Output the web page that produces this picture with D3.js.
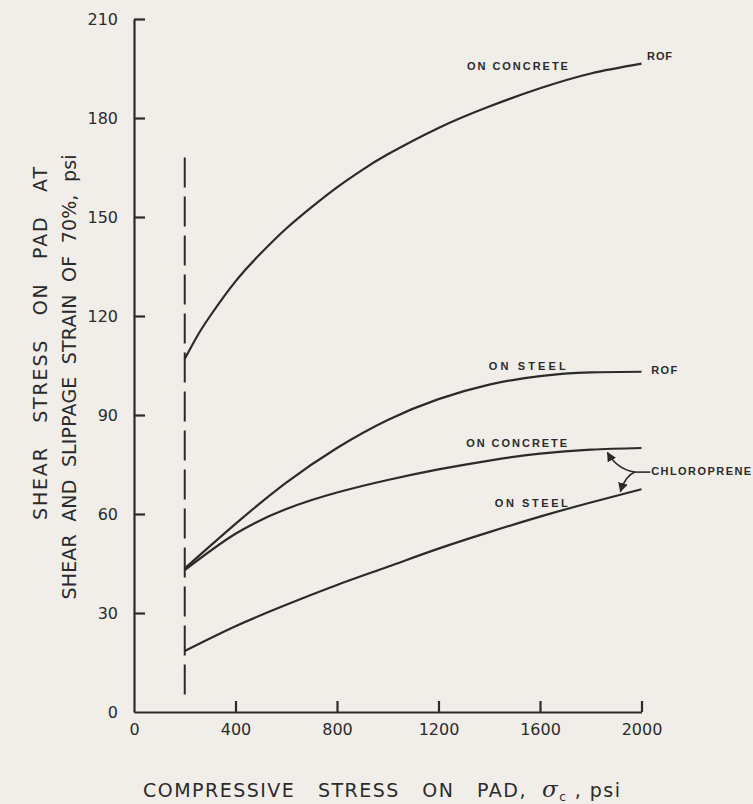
<!DOCTYPE html>
<html><head><meta charset="utf-8">
<script src="https://cdn.jsdelivr.net/npm/d3@7"></script>
<style>
html,body{margin:0;padding:0;background:#f1eeea;}
svg{display:block;}
text{white-space:pre;}
</style></head>
<body>
<svg id="chart" width="753" height="804"></svg>
<script>
// ---- data ----
const xTicks = [0, 400, 800, 1200, 1600, 2000];
const yTicks = [0, 30, 60, 90, 120, 150, 180, 210];
const rofConcreteX = [200, 250, 300, 400, 500, 600, 700, 800, 900, 1000, 1200, 1400, 1600, 1800, 2000];
const rofConcreteY = [107, 114, 120, 130.5, 139, 146.5, 153, 159, 164.3, 169, 177, 183.5, 189, 193.5, 196.5];
const stressX = [200, 400, 600, 800, 1000, 1200, 1400, 1600, 1800, 2000];
const rofSteel = [43.5, 57, 69.5, 80, 88.5, 94.8, 99.2, 101.8, 102.9, 103.1];
const chlConcrete = [43, 54, 61.5, 66.5, 70.3, 73.5, 76.2, 78.3, 79.5, 80];
const chlSteel = [18.5, 26, 32.5, 38.5, 44, 49.5, 54.5, 59.2, 63.5, 67.5];
const dashX = 200, dashTop = 168;

const svg = d3.select("#chart");
const x = d3.scaleLinear().domain([0, 2000]).range([134, 641.5]);
const y = d3.scaleLinear().domain([0, 210]).range([712, 19]);
const ink = "#2b2b2b";
const tickFont = "DejaVu Sans, sans-serif";

// axes
const xAxis = d3.axisBottom(x).tickValues(xTicks).tickFormat(d3.format("d"))
  .tickSizeInner(-11).tickSizeOuter(0).tickPadding(12);
const gx = svg.append("g").attr("transform", `translate(0,${y(0)})`).call(xAxis);
const yAxis = d3.axisLeft(y).tickValues(yTicks).tickFormat(d3.format("d"))
  .tickSizeInner(-11).tickSizeOuter(0).tickPadding(16);
const gy = svg.append("g").attr("transform", `translate(${x(0)},0)`).call(yAxis);
[gx, gy].forEach(g => {
  g.select(".domain").attr("stroke", ink).attr("stroke-width", 2.2);
  g.selectAll(".tick line").attr("stroke", ink).attr("stroke-width", 2.2);
  g.selectAll(".tick text").attr("fill", ink).attr("font-family", tickFont)
    .attr("font-size", 16);
});
gy.selectAll(".tick line").filter(d => d === 0).remove();
gx.selectAll(".tick line").filter(d => d === 0).remove();

// dashed vertical line
svg.append("line").attr("x1", x(dashX)).attr("x2", x(dashX))
  .attr("y1", y(dashTop)).attr("y2", y(2.7))
  .attr("stroke", ink).attr("stroke-width", 2).attr("stroke-dasharray", "30,9");

// curves
const line = d3.line().x(d => x(d[0])).y(d => y(d[1])).curve(d3.curveNatural);
const series = [
  [rofConcreteX, rofConcreteY],
  [stressX, rofSteel],
  [stressX, chlConcrete],
  [stressX, chlSteel]
];
series.forEach(([xs, ys]) => {
  svg.append("path").datum(xs.map((v, i) => [v, ys[i]]))
    .attr("d", line).attr("fill", "none").attr("stroke", ink).attr("stroke-width", 2.2);
});

// curve labels (data coordinates)
const labelText = ["ON CONCRETE", "ROF", "ON STEEL", "ROF", "ON CONCRETE", "ON STEEL", "CHLOROPRENE"];
const labelX = [1312, 2022, 1398, 2038, 1309, 1422, 2038];
const labelY = [194.5, 197.5, 103.5, 102.3, 80.3, 62, 71.8];
const labelW = [101, 25, 77, 26, 101, 73, 100];
labelText.forEach((t, i) => {
  svg.append("text").attr("x", x(labelX[i])).attr("y", y(labelY[i]))
    .attr("font-family", "Liberation Sans, Arial, sans-serif").attr("font-weight", "bold")
    .attr("font-size", 11).attr("fill", ink)
    .attr("textLength", labelW[i]).attr("lengthAdjust", "spacing").text(t);
});

// chloroprene leader + arrows
const leadX = [1974, 2035], leadY = [72.7, 72.7];
svg.append("line").attr("x1", x(leadX[0])).attr("x2", x(leadX[1]))
  .attr("y1", y(leadY[0])).attr("y2", y(leadY[1])).attr("stroke", ink).attr("stroke-width", 1.6);
svg.append("defs").append("marker").attr("id", "ah").attr("viewBox", "0 0 10 10")
  .attr("refX", 9).attr("refY", 5).attr("markerWidth", 6).attr("markerHeight", 6)
  .attr("orient", "auto").append("path").attr("d", "M0,0L10,5L0,10z").attr("fill", ink);
const arrowTipX = [1866, 1917], arrowTipY = [78.6, 66.8];
const arrowCtlX = [1905, 1935], arrowCtlY = [73.5, 71.5];
arrowTipX.forEach((tx, i) => {
  const p = d3.path();
  p.moveTo(x(leadX[0]), y(leadY[0]));
  p.quadraticCurveTo(x(arrowCtlX[i]), y(arrowCtlY[i]), x(tx), y(arrowTipY[i]));
  svg.append("path").attr("d", p.toString()).attr("fill", "none").attr("stroke", ink)
    .attr("stroke-width", 1.6).attr("marker-end", "url(#ah)");
});

// axis titles
const titleFont = "DejaVu Sans, sans-serif";
const xt = svg.append("text").attr("x", 143).attr("y", 797)
  .attr("font-family", titleFont).attr("font-size", 19).attr("fill", ink)
  .attr("textLength", 477).attr("lengthAdjust", "spacing");
xt.append("tspan").text("COMPRESSIVE   STRESS   ON   PAD,  ");
xt.append("tspan").attr("font-size", 23).attr("font-family", "DejaVu Serif, serif").attr("font-style", "italic").text("σ");
xt.append("tspan").attr("font-size", 12).attr("dy", 4).text("c");
xt.append("tspan").attr("dy", -4).text(" , psi");

const yTitle = ["SHEAR   STRESS   ON   PAD   AT", "SHEAR  AND  SLIPPAGE  STRAIN  OF  70%,  psi"];
const yTitleX = [47, 76];
const yTitleY = [343.5, 377];
const yTitleW = [353, 445];
yTitle.forEach((t, i) => {
  svg.append("text").attr("transform", `translate(${yTitleX[i]},${yTitleY[i]}) rotate(-90)`)
    .attr("text-anchor", "middle").attr("font-family", titleFont)
    .attr("font-size", 19).attr("fill", ink)
    .attr("textLength", yTitleW[i]).attr("lengthAdjust", "spacing").text(t);
});
</script>
</body></html>
